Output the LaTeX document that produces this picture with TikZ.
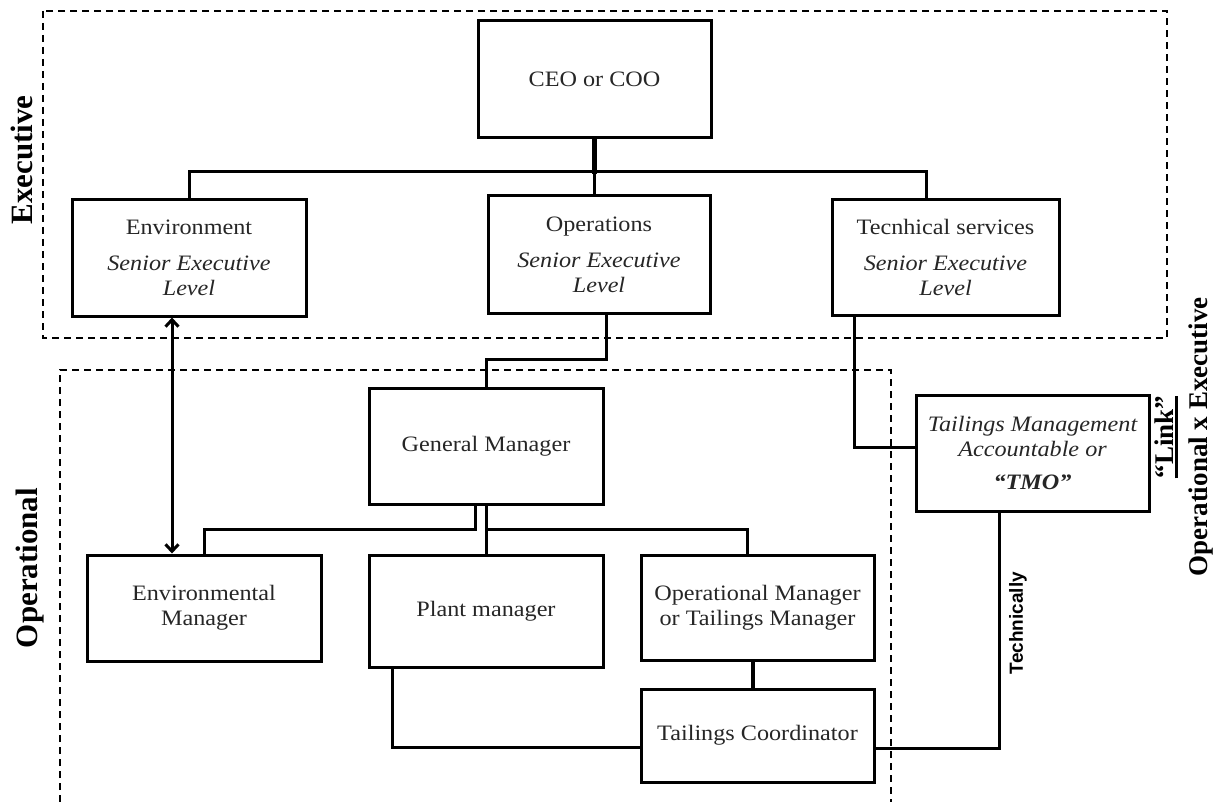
\documentclass[tikz,border=0pt]{standalone}
\usepackage{fontspec}
\setmainfont{Liberation Serif}
\newfontfamily\boxfont{Liberation Serif}[FakeStretch=1.1]
\newfontfamily\arialfont{Liberation Sans}
\usetikzlibrary{calc,arrows.meta}
\newcommand\thickunder[1]{\vtop{\hbox{#1}\kern1.5pt\hrule height 2.6pt}}
\tikzset{
  orgbox/.style={draw, line width=3pt, rectangle, inner sep=0pt, align=center,
    text=black!85, font=\boxfont\fontsize{22}{25}\selectfont},
  conn/.style={line width=3pt},
  region/.style={line width=1.4pt, dash pattern=on 7pt off 5pt},
  sidelabel/.style={rotate=90, font=\bfseries\fontsize{31}{34}\selectfont, inner sep=0pt},
}
\begin{document}
\begin{tikzpicture}[x=1pt, y=-1pt]
\useasboundingbox (0,0) rectangle (1225,802);
% regions
\draw[region] (43,11) rectangle (1167,338);
\draw[region] (60,802) -- (60,370) -- (891,370) -- (891,802);
% nodes
\node[orgbox, minimum width=233pt, minimum height=117pt] (ceo) at (594.5,79.5) {CEO or COO};
\node[orgbox, minimum width=234pt, minimum height=116pt] (env) at (189,258)
  {Environment\\[11pt]\itshape Senior Executive\\\itshape Level};
\node[orgbox, minimum width=222pt, minimum height=117pt] (ops) at (599,254.5)
  {Operations\\[11pt]\itshape Senior Executive\\\itshape Level};
\node[orgbox, minimum width=227pt, minimum height=115pt] (tech) at (945.5,257.5)
  {Tecnhical services\\[11pt]\itshape Senior Executive\\\itshape Level};
\node[orgbox, minimum width=234pt, minimum height=116pt] (gm) at (486,446) {General Manager};
\node[orgbox, minimum width=234pt, minimum height=106pt] (envm) at (204,608) {Environmental\\Manager};
\node[orgbox, minimum width=234pt, minimum height=112pt] (plant) at (486,611) {Plant manager};
\node[orgbox, minimum width=233pt, minimum height=105pt] (opm) at (757.5,607.5) {Operational Manager\\or Tailings Manager};
\node[orgbox, minimum width=233pt, minimum height=93pt] (tc) at (757.5,735.5) {Tailings Coordinator};
\node[orgbox, minimum width=233pt, minimum height=116pt] (tmo) at (1032.5,453)
  {\itshape Tailings Management\\\itshape Accountable or\\[8pt]\bfseries\itshape “TMO”};
% labels
\node[sidelabel] (lexec) at (22,160) {Executive};
\node[sidelabel] (lop) at (30,568) {Operational};
\node[rotate=90, inner sep=0pt, align=center, font=\bfseries\fontsize{27}{34}\selectfont] (link) at (1184,437)
  {\thickunder{“Link”}\\Operational x Executive};
\node[rotate=90, inner sep=0pt, font=\arialfont\bfseries\fontsize{19}{22}\selectfont] (techly) at (1018,623) {Technically};
% connectors
\coordinate (ceobus) at ($(ceo.south)+(0,35)$);
\draw[line width=5.5pt] (ceo.south) -- (ceobus);
\draw[conn] (ceobus) -- (ops.north -| ceobus);
\draw[conn] (env.north) -- ++(0,-27) -| ($(tech.north)+(-19.5,0)$);
\draw[conn] ($(ops.south)+(7,0)$) -- ++(0,45) -| (gm.north);
\draw[conn] ($(gm.south)+(-11,0)$) -- ++(0,24) -| (envm.north);
\draw[conn] (gm.south) -- (plant.north);
\draw[conn] ($(gm.south)+(0,24)$) -| ($(opm.north)+(-10.5,0)$);
\draw[conn, line width=3.5pt] ($(opm.south)+(-4.5,0)$) -- ($(tc.north)+(-4.5,0)$);
\draw[conn] ($(plant.south)+(-94,0)$) |- ($(tc.west)+(0,12)$);
\coordinate (tk) at ($(tmo.south)+(-33.5,0)$);
\draw[conn] ($(tc.east)+(0,13)$) -| (tk);
\draw[conn, dash pattern=on 12pt off 9pt] ($(opm.east)+(0,-2.5)$) -- ($(opm.east)+(0,-2.5)$ -| tk);
\draw[conn] ($(tech.south)+(-91.5,0)$) |- ($(tmo.west)+(0,-6)$);
\draw[conn, {Straight Barb[length=7pt,width=13pt]}-{Straight Barb[length=7pt,width=13pt]}]
  ($(env.south)+(-17,0)$) -- ($(envm.north)+(-32,0)$);
\end{tikzpicture}
\end{document}
